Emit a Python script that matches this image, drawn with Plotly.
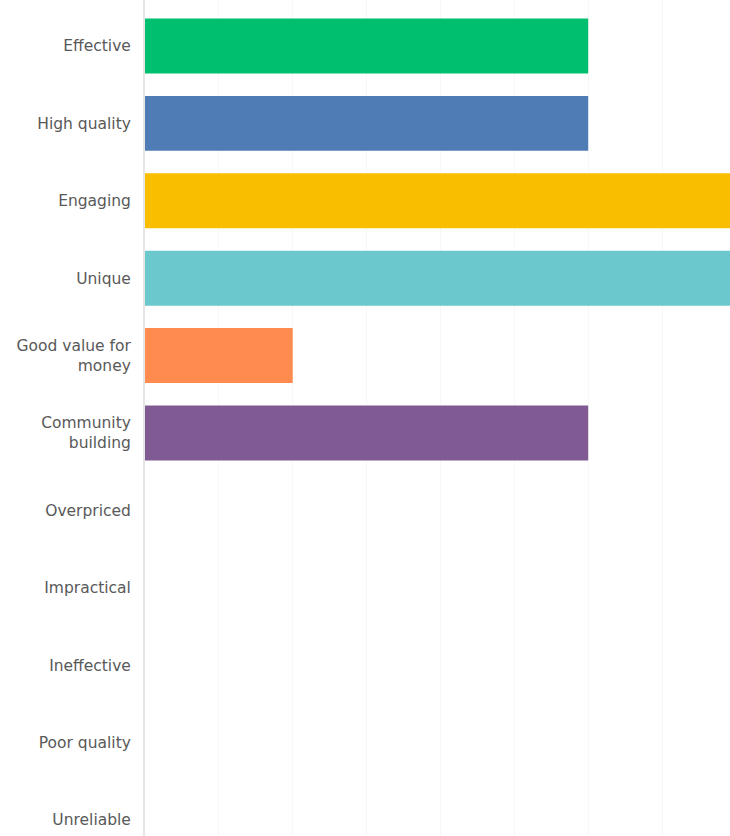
import plotly.graph_objects as go

categories = ["Effective", "High quality", "Engaging", "Unique", "Good value for<br>money",
              "Community<br>building", "Overpriced", "Impractical", "Ineffective",
              "Poor quality", "Unreliable"]
values = [60, 60, 100, 100, 20, 60, 0, 0, 0, 0, 0]
colors = ["#00BF6F", "#507CB6", "#F9BE00", "#6BC8CD", "#FF8B4F", "#7F5A93",
          "#A0A0A0", "#A0A0A0", "#A0A0A0", "#A0A0A0", "#A0A0A0"]

fig = go.Figure(go.Bar(
    x=values, y=list(range(len(categories))), orientation="h",
    marker=dict(color=colors, line=dict(width=0)),
    width=0.71,
))

fig.update_layout(
    width=730, height=836,
    margin=dict(l=145, r=0, t=0, b=0),
    paper_bgcolor="white", plot_bgcolor="white",
    showlegend=False,
    font=dict(family="DejaVu Sans", size=15.5, color="#595959"),
)
fig.update_xaxes(range=[0, 79.2], dtick=10, showgrid=True, gridcolor="#f7f7f7",
                 gridwidth=1, showticklabels=False, zeroline=False, fixedrange=True)
fig.update_yaxes(range=[10.207, -0.594], tickmode="array",
                 tickvals=list(range(len(categories))), ticktext=categories,
                 showgrid=False, showline=True, linecolor="#e6e6e6", linewidth=2,
                 ticks="", ticklabelstandoff=9, zeroline=False)

fig.write_html("out.html")
